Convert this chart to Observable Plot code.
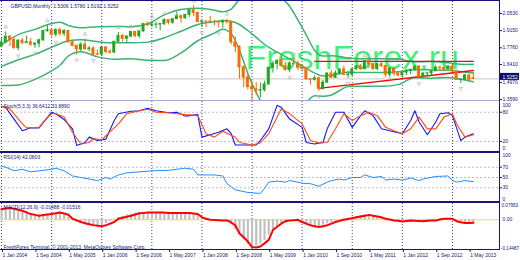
<!DOCTYPE html>
<html><head><meta charset="utf-8">
<script src="https://cdn.jsdelivr.net/npm/d3@7"></script>
<script src="https://cdn.jsdelivr.net/npm/@observablehq/plot@0.6"></script>
<style>
html,body{margin:0;padding:0;background:#fff}
#chart{position:relative;width:520px;height:260px;overflow:hidden;background:#fff}
#chart svg{position:absolute;left:0;overflow:visible}
.sep{position:absolute;left:0}
</style></head><body><div id="chart"></div>
<script>
// ---------- DATA (months counted from Jan 2004) ----------
const titleText = "GBPUSD,Monthly  1.5306 1.5780 1.5192 1.5252";
const watermark = "FreshForex.ru";
const footerText = "FreshForex Terminal, © 2001-2013, MetaQuotes Software Corp.";
const stochLabel = "Stoch(5,3,3) 36.6412 33.8890";
const rsiLabel = "RSI(14) 42.0803";
const macdLabel = "MACD(12,26,9) -0.01488 -0.01516";

const tickMonths = [0,8,16,24,32,40,48,56,64,72,80,88,96,104,112];
const tickLabels = ["1 Jan 2004","1 Sep 2004","1 May 2005","1 Jan 2006","1 Sep 2006","1 May 2007","1 Jan 2008","1 Sep 2008","1 May 2009","1 Jan 2010","1 Sep 2010","1 May 2011","1 Jan 2012","1 Sep 2012","1 May 2013"];
const yearMonths = [0,12,24,36,48,60,72,84,96,108];
const priceTicks = [2.0530,1.9150,1.7760,1.6410,1.4970,1.3590];

const open = [1.786,1.820,1.866,1.840,1.773,1.834,1.815,1.820,1.802,1.810,1.837,1.911,
1.918,1.883,1.920,1.890,1.912,1.820,1.792,1.762,1.801,1.765,1.771,1.725,
1.721,1.779,1.743,1.737,1.825,1.872,1.849,1.867,1.904,1.870,1.909,1.968,
1.958,1.963,1.963,1.967,2.000,1.979,2.007,2.031,2.015,2.042,2.080,2.057,
1.985,1.988,1.987,1.985,1.984,1.980,1.991,1.983,1.821,1.784,1.619,1.536,
1.460,1.441,1.431,1.434,1.480,1.615,1.646,1.671,1.629,1.597,1.650,1.646,
1.615,1.607,1.522,1.518,1.530,1.446,1.495,1.569,1.534,1.570,1.602,1.557,
1.559,1.602,1.626,1.603,1.670,1.645,1.606,1.643,1.629,1.559,1.608,1.568,
1.554,1.576,1.590,1.599,1.625,1.539,1.568,1.570,1.587,1.616,1.613,1.602,
1.625,1.586,1.516,1.519,1.553,1.531];
const high = [1.854,1.905,1.877,1.861,1.840,1.852,1.870,1.852,1.812,1.846,1.918,1.955,
1.921,1.928,1.936,1.923,1.915,1.833,1.796,1.818,1.847,1.787,1.784,1.760,
1.790,1.783,1.761,1.828,1.900,1.883,1.872,1.906,1.909,1.911,1.968,1.985,
1.988,1.980,1.973,2.010,2.000,2.007,2.066,2.042,2.044,2.083,2.116,2.065,
1.996,1.991,2.031,2.001,1.989,2.000,2.007,1.984,1.864,1.793,1.629,1.556,
1.511,1.495,1.493,1.507,1.617,1.666,1.678,1.702,1.659,1.664,1.686,1.671,
1.642,1.608,1.528,1.551,1.540,1.512,1.571,1.595,1.590,1.603,1.629,1.586,
1.605,1.633,1.642,1.672,1.670,1.646,1.648,1.660,1.637,1.614,1.614,1.575,
1.581,1.600,1.601,1.628,1.630,1.575,1.574,1.591,1.631,1.626,1.617,1.631,
1.638,1.589,1.523,1.561,1.562,1.578];
const low = [1.777,1.817,1.786,1.765,1.752,1.802,1.813,1.788,1.772,1.776,1.828,1.903,
1.863,1.862,1.869,1.868,1.817,1.785,1.717,1.745,1.757,1.745,1.713,1.714,
1.715,1.728,1.727,1.734,1.822,1.822,1.811,1.857,1.858,1.853,1.902,1.946,
1.940,1.932,1.914,1.957,1.960,1.966,2.005,1.974,2.005,2.022,2.026,1.979,
1.938,1.937,1.970,1.952,1.935,1.934,1.968,1.800,1.736,1.523,1.455,1.436,
1.350,1.398,1.373,1.420,1.475,1.572,1.597,1.627,1.587,1.574,1.636,1.593,
1.582,1.512,1.474,1.507,1.423,1.434,1.490,1.528,1.530,1.553,1.556,1.530,
1.543,1.597,1.594,1.600,1.610,1.593,1.590,1.616,1.537,1.532,1.547,1.539,
1.523,1.553,1.560,1.587,1.527,1.529,1.537,1.550,1.584,1.592,1.583,1.600,
1.576,1.513,1.488,1.511,1.500,1.519];
const close = [1.820,1.866,1.840,1.773,1.834,1.815,1.820,1.802,1.810,1.837,1.911,1.918,
1.883,1.920,1.890,1.912,1.820,1.792,1.762,1.801,1.765,1.771,1.725,1.721,
1.779,1.743,1.737,1.825,1.872,1.849,1.867,1.904,1.870,1.909,1.968,1.958,
1.963,1.963,1.967,2.000,1.979,2.007,2.031,2.015,2.042,2.080,2.057,1.985,
1.988,1.987,1.985,1.984,1.980,1.991,1.983,1.821,1.784,1.619,1.536,1.460,
1.441,1.431,1.434,1.480,1.615,1.646,1.671,1.629,1.597,1.650,1.646,1.615,
1.607,1.522,1.518,1.530,1.446,1.495,1.569,1.534,1.570,1.602,1.557,1.559,
1.602,1.626,1.603,1.670,1.645,1.606,1.643,1.629,1.559,1.608,1.568,1.554,
1.576,1.590,1.599,1.625,1.539,1.568,1.570,1.587,1.616,1.613,1.602,1.625,
1.586,1.516,1.519,1.553,1.519,1.5252];

const bbAt = [0,4,8,12,14,16,19,23,27,31,35,39,43,47,51,53,55,57,59,61,63,65,67,69,71,73,75,77,79,81,83,87,91,95,99,103,107,111,113];
const bbUpper = [1.800,1.883,1.925,1.972,1.983,1.956,1.937,1.947,1.949,1.946,1.969,2.042,2.085,2.095,2.079,2.067,2.089,2.171,2.264,2.305,2.303,2.250,2.181,2.112,1.999,1.879,1.755,1.710,1.712,1.706,1.694,1.687,1.688,1.685,1.664,1.665,1.655,1.642,1.643];
const bbMiddle = [1.626,1.680,1.723,1.781,1.809,1.833,1.841,1.825,1.816,1.817,1.822,1.858,1.910,1.964,1.987,1.997,1.990,1.964,1.916,1.860,1.803,1.760,1.723,1.687,1.651,1.609,1.572,1.548,1.554,1.569,1.579,1.576,1.577,1.582,1.600,1.598,1.596,1.579,1.573];
const bbLower = [1.472,1.477,1.521,1.590,1.635,1.710,1.745,1.703,1.683,1.688,1.675,1.674,1.735,1.833,1.895,1.926,1.891,1.757,1.568,1.415,1.303,1.270,1.265,1.262,1.303,1.339,1.389,1.386,1.396,1.432,1.464,1.465,1.466,1.479,1.536,1.531,1.537,1.516,1.502];

const resistanceMonths = [75,113];
const resistancePrices = [1.666,1.666];
const supportMonths = [76,113];
const supportPrices = [1.448,1.593];

const fractalUp = [1,11,20,28,31,36,39,46,54,70,87];
const fractalDown = [4,8,13,18,22,48,52,69,76,83,100,110];

const stochLevels = [80,20];
const stochKAt = [0,1,3,5,7,9,12,13,15,17,18,20,21,23,25,27,28,31,33,35,37,40,42,44,47,48,50,52,54,55,56,59,61,62,64,66,67,69,72,73,75,77,78,80,82,84,86,87,89,91,93,95,96,98,99,100,102,104,105,107,108,110,111,113];
const stochK = [92,90,66,42,48,48,80,77,65,46,12,18,29,22,25,63,77,82,83,88,83,79,80,72,75,29,34,39,46,36,13,13,13,22,46,94,90,66,49,18,15,18,46,80,80,49,73,83,73,46,42,38,36,63,83,60,34,60,77,79,73,22,29,36];
const stochDAt = [0,2,5,6,9,10,12,13,15,17,19,21,22,24,25,28,30,32,35,37,40,42,44,47,49,51,53,56,57,60,62,64,67,69,72,74,76,78,80,82,84,86,88,90,92,94,96,98,100,102,104,106,108,109,111,113];
const stochD = [92,87,56,48,49,60,77,77,70,39,15,18,26,23,32,56,77,81,86,80,79,77,75,73,36,29,41,29,18,13,17,36,87,77,56,22,17,18,46,77,63,73,80,73,49,42,36,46,70,46,46,70,77,56,29,34];

const rsiLevels = [70,50,30];
const rsiAt = [0,1,3,5,7,9,12,13,15,17,19,21,23,25,26,28,30,33,36,40,42,44,46,47,51,53,54,56,59,62,63,64,66,68,69,71,72,74,76,78,79,81,82,84,86,87,89,91,92,94,96,98,100,101,104,107,108,109,111,113];
const rsi = [72,70,63,66,61,63,66,68,63,53,50,47,44,50,47,55,59,61,63,64,66,68,66,55,55,53,38,26,21,19,29,41,43,41,44,41,39,38,33,41,44,47,45,50,50,55,50,52,45,47,45,49,44,47,52,53,44,41,44,42];

const macdHist = [.056,.058,.055,.049,.044,.038,.030,.024,.020,.021,.026,.029,
.032,.034,.031,.024,.012,-.002,-.010,-.017,-.023,-.026,-.030,-.031,
-.026,-.017,-.007,.003,.012,.017,.023,.028,.032,.035,.037,.038,
.037,.036,.035,.034,.034,.034,.035,.034,.034,.032,.029,.019,
.009,.003,-.001,-.002,-.003,-.003,-.009,-.024,-.047,-.073,-.098,-.119,
-.132,-.128,-.118,-.101,-.075,-.051,-.032,-.019,-.009,-.003,-.005,-.010,
-.019,-.026,-.031,-.034,-.032,-.027,-.020,-.013,-.006,.000,.005,.009,
.013,.016,.020,.024,.022,.018,.014,.008,.002,-.003,-.006,-.009,
-.008,-.005,-.003,-.005,-.008,-.007,-.005,-.003,.001,.004,.006,.005,
.000,-.010,-.015,-.018,-.016,-.015];
const macdSignal = [.052,.055,.057,.054,.049,.044,.036,.028,.024,.020,.023,.026,
.028,.032,.036,.031,.025,.005,-.003,-.011,-.017,-.022,-.026,-.029,
-.032,-.027,-.019,-.011,.005,.010,.015,.020,.026,.032,.033,.035,
.036,.036,.036,.035,.033,.033,.033,.033,.033,.033,.031,.028,
.012,.005,.000,-.001,-.002,-.003,-.003,-.013,-.027,-.067,-.085,-.106,
-.133,-.135,-.130,-.115,-.098,-.050,-.034,-.019,-.007,-.003,-.002,.000,
-.011,-.019,-.027,-.032,-.035,-.032,-.027,-.019,-.011,-.005,.000,.004,
.008,.012,.016,.020,.024,.020,.016,.012,.005,.001,-.003,-.005,
-.008,-.006,-.003,-.005,-.006,-.007,-.005,-.004,-.003,.001,.005,.005,
.005,-.007,-.012,-.016,-.016,-.015];
const macdScale = [0.0795, -0.1449];
const macdScaleLabels = ["0.07953", "0.00", "-0.14487"];

// ---------- STYLE ----------
const FONT = '"Liberation Sans", Arial, sans-serif';
const W = 520, RIGHT = 21;
const navy = "#16167a";
const gridColor = "#3a3aa0";
const bandColor = "#3cb371";
const bullColor = "#25a525";
const bearColor = "#ff6a00";
const X = {domain: [-0.25, 119.27], axis: null};
const baseStyle = {background: "transparent", fontFamily: FONT, overflow: "visible"};
const priceBoxShift = -2;

const bars = close.map((c, i) => ({i, o: open[i], h: high[i], l: low[i], c}));
const candleColor = d => d.c >= d.o ? bullColor : bearColor;
const lastPrice = close[close.length - 1];
const chart = document.getElementById("chart");
const yearRule = Plot.ruleX(yearMonths, {x: d => d, stroke: gridColor, strokeDasharray: "1,2"});
const edgeText = (v, label, anchor, dy, size = 5, dx = 3) => Plot.text([v], {y: d => d, text: () => label, frameAnchor: "right", dx, dy, textAnchor: "start", lineAnchor: anchor, fontSize: size, fill: navy});

// ---------- MAIN PRICE PANEL ----------
const main = Plot.plot({
  width: W, height: 101, marginTop: 1, marginBottom: 1, marginLeft: 0, marginRight: RIGHT,
  style: baseStyle, x: X, y: {domain: [1.351, 2.1498]}, color: {type: "identity"},
  marks: [
    Plot.text([watermark], {text: d => d, frameAnchor: "top-left", dx: 245, dy: 43, textAnchor: "start", lineAnchor: "top", fontSize: 34, fill: "#44f07c", fontFamily: FONT}),
    yearRule,
    Plot.ruleY([lastPrice], {y: d => d, stroke: "#c8c8c8"}),
    Plot.line(bbAt, {x: d => d, y: (d, i) => bbUpper[i], stroke: bandColor, curve: "monotone-x", clip: true}),
    Plot.line(bbAt, {x: d => d, y: (d, i) => bbMiddle[i], stroke: bandColor, curve: "monotone-x", clip: true}),
    Plot.line(bbAt, {x: d => d, y: (d, i) => bbLower[i], stroke: bandColor, curve: "monotone-x", clip: true}),
    Plot.line(resistanceMonths, {x: d => d, y: (d, i) => resistancePrices[i], stroke: "#ff0000", strokeWidth: 1.3}),
    Plot.line(supportMonths, {x: d => d, y: (d, i) => supportPrices[i], stroke: "#ff0000", strokeWidth: 1.3}),
    Plot.ruleX(bars, {x: "i", y1: "l", y2: "h", stroke: candleColor, strokeWidth: 1, clip: true}),
    Plot.rect(bars, {x1: d => d.i - 0.36, x2: d => d.i + 0.36, y1: d => Math.min(d.o, d.c), y2: d => Math.max(d.o, d.c), fill: candleColor, insetTop: -0.5, insetBottom: -0.5, clip: true}),
    Plot.dot(fractalUp, {x: d => d, y: d => high[d], dy: -5, symbol: "triangle", r: 1.3, stroke: "#b4b4b4", strokeWidth: 0.7, fill: "none"}),
    Plot.dot(fractalDown, {x: d => d, y: d => low[d], dy: 5, symbol: "triangle", rotate: 180, r: 1.3, stroke: "#b4b4b4", strokeWidth: 0.7, fill: "none"}),
    Plot.text([titleText], {text: d => d, frameAnchor: "top-left", dx: 10, dy: 3, textAnchor: "start", lineAnchor: "top", fontSize: 5, fill: navy}),
    Plot.axisY({anchor: "right", ticks: priceTicks, tickFormat: d => d.toFixed(4), tickSize: 2, tickPadding: 1, fontSize: 5, color: navy, label: null}),
    Plot.text([lastPrice], {y: d => d, text: d => d.toFixed(4), frameAnchor: "right", dx: 3, dy: priceBoxShift, textAnchor: "start", fontSize: 5, fill: "white"})
  ]
});
main.style.top = "0px";
chart.appendChild(main);
{
  const yv = main.scale("y").apply(lastPrice) + priceBoxShift;
  d3.select(main).insert("rect", ":scope > :last-child")
    .attr("x", W - RIGHT + 1).attr("y", yv - 3.5).attr("width", 19).attr("height", 7).attr("fill", "#0a0a70");
}

// ---------- STOCHASTIC ----------
const stoch = Plot.plot({
  width: W, height: 50, margin: 0, marginRight: RIGHT,
  style: baseStyle, x: X, y: {domain: [-0.41, 101.94]},
  marks: [
    Plot.ruleY(stochLevels, {y: d => d, stroke: "#bdbdbd", strokeDasharray: "2,2"}),
    yearRule,
    Plot.line(stochKAt, {x: d => d, y: (d, i) => stochK[i], stroke: "#1414ff", strokeWidth: 1.1}),
    Plot.line(stochDAt, {x: d => d, y: (d, i) => stochD[i], stroke: "#ff4a14", strokeWidth: 1.1}),
    Plot.text([stochLabel], {text: d => d, frameAnchor: "top-left", dx: 3, dy: 3, textAnchor: "start", lineAnchor: "top", fontSize: 5, fill: navy}),
    Plot.axisY({anchor: "right", ticks: stochLevels, tickSize: 2, tickPadding: 1, fontSize: 5, color: navy, label: null}),
    edgeText(100, "100", "top", 1),
    edgeText(0, "0", "bottom", -1)
  ]
});
stoch.style.top = "101px";
chart.appendChild(stoch);

// ---------- RSI ----------
const rsiPlot = Plot.plot({
  width: W, height: 48, margin: 0, marginRight: RIGHT,
  style: baseStyle, x: X, y: {domain: [3.4, 96.6]},
  marks: [
    Plot.ruleY(rsiLevels, {y: d => d, stroke: "#bdbdbd", strokeDasharray: "2,2"}),
    yearRule,
    Plot.line(rsiAt, {x: d => d, y: (d, i) => rsi[i], stroke: "#1e90ff", strokeWidth: 1}),
    Plot.text([rsiLabel], {text: d => d, frameAnchor: "top-left", dx: 3, dy: 2, textAnchor: "start", lineAnchor: "top", fontSize: 5, fill: navy}),
    Plot.axisY({anchor: "right", ticks: rsiLevels, tickSize: 2, tickPadding: 1, fontSize: 5, color: navy, label: null}),
    edgeText(100, "100", "top", 2),
    edgeText(0, "0", "bottom", -2)
  ]
});
rsiPlot.style.top = "153px";
chart.appendChild(rsiPlot);

// ---------- MACD ----------
const macd = Plot.plot({
  width: W, height: 57, marginTop: 0, marginBottom: 11, marginLeft: 0, marginRight: RIGHT,
  style: baseStyle, x: {domain: X.domain}, y: {domain: [macdScale[1], macdScale[0]], axis: null},
  marks: [
    yearRule,
    Plot.ruleY([0], {y: d => d, stroke: "#e6d67a"}),
    Plot.ruleX(macdHist, {x: (d, i) => i, y1: 0, y2: d => d, stroke: "#c0c0c0", strokeWidth: 2.2}),
    Plot.line(macdSignal, {x: (d, i) => i, y: d => d, stroke: "#ff0000", strokeWidth: 2}),
    Plot.text([macdLabel], {text: d => d, frameAnchor: "top-left", dx: 3, dy: 2, textAnchor: "start", lineAnchor: "top", fontSize: 5, fill: navy}),
    Plot.text([footerText], {text: d => d, frameAnchor: "bottom-left", dx: 3, dy: -1, textAnchor: "start", lineAnchor: "bottom", fontSize: 5, fill: navy}),
    edgeText(macdScale[0], macdScaleLabels[0], "top", 0, 4.6, 2),
    edgeText(0, macdScaleLabels[1], "middle", 0, 5, 3),
    edgeText(macdScale[1], macdScaleLabels[2], "bottom", 0, 4.6, 1.5),
    Plot.axisX({anchor: "bottom", ticks: tickMonths, tickFormat: d => tickLabels[tickMonths.indexOf(d)], tickSize: 3, tickPadding: 1, textAnchor: "start", dx: 1, fontSize: 5, color: navy, label: null})
  ]
});
macd.style.top = "203px";
chart.appendChild(macd);

// ---------- panel borders ----------
[[0, 1, navy], [100, 1, "#a8a8cc"], [151, 2, navy], [201, 2, navy], [249, 1, navy]].forEach(([t, h, c]) => {
  const d = document.createElement("div");
  d.className = "sep";
  Object.assign(d.style, {top: t + "px", height: h + "px", width: (W - RIGHT + 1) + "px", background: c});
  chart.appendChild(d);
});
{
  const d = document.createElement("div");
  d.className = "sep";
  Object.assign(d.style, {top: "0px", left: (W - RIGHT) + "px", width: "1px", height: "250px", background: navy});
  chart.appendChild(d);
}
</script></body></html>
